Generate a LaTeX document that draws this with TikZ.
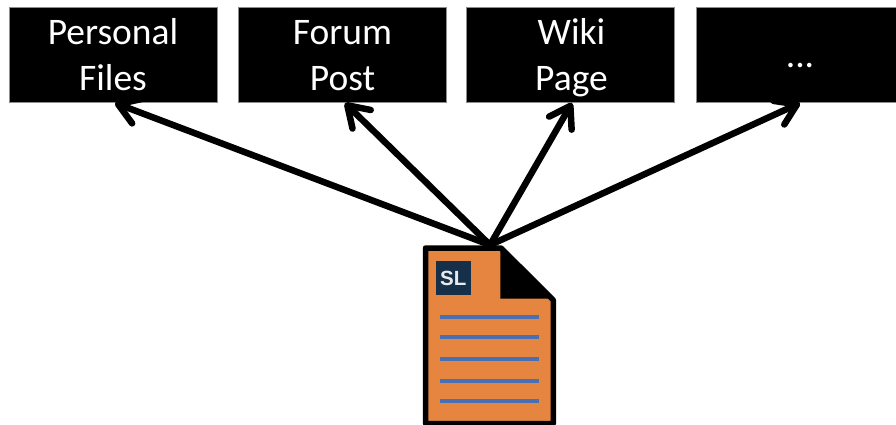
\documentclass[tikz,border=0pt]{standalone}
\usepackage{fontspec}
\setmainfont{Carlito}
\newfontfamily\slfont{Liberation Sans}
\usetikzlibrary{arrows.meta}
\definecolor{docorange}{HTML}{E5853F}
\definecolor{sldark}{HTML}{17304A}
\definecolor{rulecol}{HTML}{4A70B4}
\newcommand\lnstrut{\rule[-7pt]{0pt}{41pt}}
\tikzset{
  x=1pt,y=-1pt,
  target/.style={fill=black,draw=black!45,line width=.5pt,minimum width=208pt,minimum height=95pt,inner sep=0pt,text=white,align=center,font=\fontsize{37.5}{46}\selectfont},
  link/.style={line width=6.5pt,line cap=round,-{Straight Barb[length=20pt,width=26pt,line width=6.5pt,round]}},
  docline/.style={rulecol,line width=4pt},
}
\begin{document}
\begin{tikzpicture}
\useasboundingbox (0,0) rectangle (896,425);
\clip (0,0) rectangle (896,425);
\node[target] (personal) at (113,54.5) {\lnstrut Personal\\\lnstrut Files};
\node[target] (forum) at (342.5,54.5) {\lnstrut Forum\\\lnstrut Post};
\node[target] (wiki) at (570,54.5) {\lnstrut\hspace{3pt}Wiki\\\lnstrut\hspace{3pt}Page};
\node[target] (more) at (800,54.5) {\raisebox{-3pt}{\lnstrut ...}};
% document icon
\draw[line width=5.5pt,fill=docorange,line join=round] (425.5,423.5) -- (425.5,248) -- (501,248) -- (553.3,300) -- (553.3,423.5) -- cycle;
\fill[black] (500.3,246) -- (555,299) -- (550.7,298.7) -- (500.3,298.7) -- cycle;
\node[fill=sldark,minimum size=34.6pt,inner sep=0pt,text=white!90!sldark,font=\slfont\bfseries\fontsize{20.5}{20.5}\selectfont] (sl) at (453.3,278) {SL};
\foreach \y in {316.7,336.7,358.7,380.7,400.7}
  \draw[docline] (440,\y) -- (538.5,\y);
\coordinate (src) at (490,245);
\coordinate (tipa) at (115,103);
\coordinate (tipb) at (345,103);
\coordinate (tipc) at (572,103);
\coordinate (tipd) at (800,103);
\draw[link] (src) -- (tipa);
\draw[link] (src) -- (tipb);
\draw[link] (src) -- (tipc);
\draw[link] (src) -- (tipd);
\end{tikzpicture}
\end{document}
